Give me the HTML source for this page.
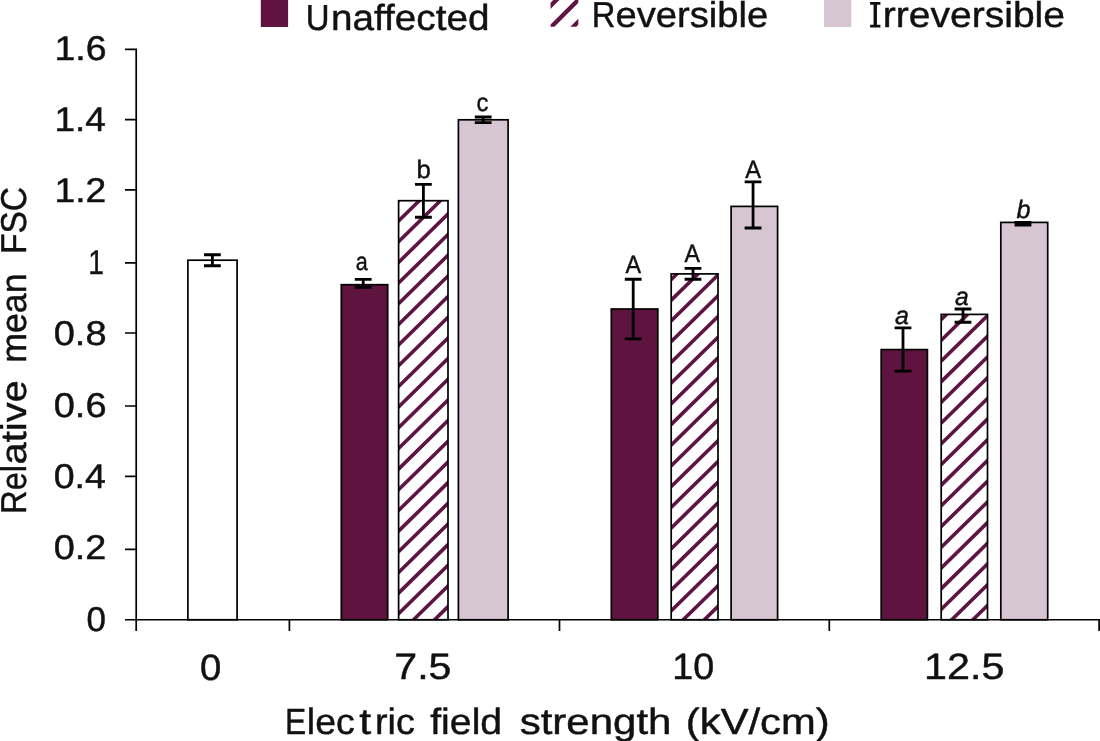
<!DOCTYPE html>
<html><head><meta charset="utf-8"><title>chart</title>
<style>html,body{margin:0;padding:0;background:#fff}svg{display:block;will-change:transform}text{font-family:"Liberation Sans",sans-serif;fill:#111;stroke:#111;stroke-width:0.45px;stroke-linejoin:round;text-rendering:geometricPrecision}</style>
</head><body>
<svg width="1100" height="741" viewBox="0 0 1100 741">
<rect width="1100" height="741" fill="#fff"/>
<defs><clipPath id="c2"><rect x="398.6" y="200.7" width="49.40" height="419.05"/></clipPath><clipPath id="c5"><rect x="671.2" y="273.9" width="46.80" height="345.85"/></clipPath><clipPath id="c8"><rect x="941.2" y="314.4" width="46.30" height="305.35"/></clipPath><clipPath id="lg"><rect x="550.55" y="-1" width="27.75" height="27.85"/></clipPath></defs>
<rect x="187.9" y="260.2" width="49.20" height="359.55" fill="#fff" stroke="#000" stroke-width="1.7"/>
<rect x="341.3" y="284.7" width="46.40" height="335.05" fill="#5f143f" stroke="#000" stroke-width="1.7"/>
<rect x="398.6" y="200.7" width="49.40" height="419.05" fill="#fff"/>
<path clip-path="url(#c2)" d="M393.60 680.62L453.00 622.40M393.60 659.95L453.00 601.73M393.60 639.28L453.00 581.06M393.60 618.61L453.00 560.39M393.60 597.94L453.00 539.72M393.60 577.27L453.00 519.05M393.60 556.60L453.00 498.38M393.60 535.93L453.00 477.71M393.60 515.26L453.00 457.04M393.60 494.59L453.00 436.37M393.60 473.92L453.00 415.70M393.60 453.25L453.00 395.03M393.60 432.58L453.00 374.36M393.60 411.91L453.00 353.69M393.60 391.24L453.00 333.02M393.60 370.57L453.00 312.35M393.60 349.90L453.00 291.68M393.60 329.23L453.00 271.01M393.60 308.56L453.00 250.34M393.60 287.89L453.00 229.67M393.60 267.22L453.00 209.00M393.60 246.55L453.00 188.33M393.60 225.88L453.00 167.66M393.60 205.21L453.00 146.99M393.60 184.54L453.00 126.32M393.60 163.87L453.00 105.65" stroke="#5e1545" stroke-width="3.6" fill="none"/>
<rect x="398.6" y="200.7" width="49.40" height="419.05" fill="none" stroke="#000" stroke-width="1.7"/>
<rect x="458.4" y="119.8" width="49.70" height="499.95" fill="#d6c6d1" stroke="#000" stroke-width="1.7"/>
<rect x="611.3" y="309.0" width="46.50" height="310.75" fill="#5f143f" stroke="#000" stroke-width="1.7"/>
<rect x="671.2" y="273.9" width="46.80" height="345.85" fill="#fff"/>
<path clip-path="url(#c5)" d="M666.20 677.86L723.00 622.20M666.20 657.15L723.00 601.49M666.20 636.44L723.00 580.78M666.20 615.73L723.00 560.07M666.20 595.02L723.00 539.36M666.20 574.31L723.00 518.65M666.20 553.60L723.00 497.94M666.20 532.89L723.00 477.23M666.20 512.18L723.00 456.52M666.20 491.47L723.00 435.81M666.20 470.76L723.00 415.10M666.20 450.05L723.00 394.39M666.20 429.34L723.00 373.68M666.20 408.63L723.00 352.97M666.20 387.92L723.00 332.26M666.20 367.21L723.00 311.55M666.20 346.50L723.00 290.84M666.20 325.79L723.00 270.13M666.20 305.08L723.00 249.42M666.20 284.37L723.00 228.71M666.20 263.66L723.00 208.00M666.20 242.95L723.00 187.29M666.20 222.24L723.00 166.58" stroke="#5e1545" stroke-width="3.6" fill="none"/>
<rect x="671.2" y="273.9" width="46.80" height="345.85" fill="none" stroke="#000" stroke-width="1.7"/>
<rect x="731.1" y="206.4" width="46.50" height="413.35" fill="#d6c6d1" stroke="#000" stroke-width="1.7"/>
<rect x="881.2" y="349.6" width="46.20" height="270.15" fill="#5f143f" stroke="#000" stroke-width="1.7"/>
<rect x="941.2" y="314.4" width="46.30" height="305.35" fill="#fff"/>
<path clip-path="url(#c8)" d="M936.20 676.39L992.50 621.21M936.20 655.69L992.50 600.51M936.20 634.99L992.50 579.81M936.20 614.29L992.50 559.11M936.20 593.59L992.50 538.41M936.20 572.89L992.50 517.71M936.20 552.19L992.50 497.01M936.20 531.49L992.50 476.31M936.20 510.79L992.50 455.61M936.20 490.09L992.50 434.91M936.20 469.39L992.50 414.21M936.20 448.69L992.50 393.51M936.20 427.99L992.50 372.81M936.20 407.29L992.50 352.11M936.20 386.59L992.50 331.41M936.20 365.89L992.50 310.71M936.20 345.19L992.50 290.01M936.20 324.49L992.50 269.31M936.20 303.79L992.50 248.61M936.20 283.09L992.50 227.91M936.20 262.39L992.50 207.21" stroke="#5e1545" stroke-width="3.6" fill="none"/>
<rect x="941.2" y="314.4" width="46.30" height="305.35" fill="none" stroke="#000" stroke-width="1.7"/>
<rect x="1000.8" y="222.4" width="46.90" height="397.35" fill="#d6c6d1" stroke="#000" stroke-width="1.7"/>
<path d="M212.4 254.8V265.7" stroke="#000" stroke-width="2.8" fill="none"/>
<path d="M204.00 254.8H220.80M204.00 265.7H220.80" stroke="#000" stroke-width="2.9" fill="none"/>
<path d="M363.2 279.4V287.4" stroke="#000" stroke-width="2.8" fill="none"/>
<path d="M354.80 279.4H371.60M354.80 287.4H371.60" stroke="#000" stroke-width="2.9" fill="none"/>
<path d="M423.4 184.4V217.2" stroke="#000" stroke-width="2.8" fill="none"/>
<path d="M415.00 184.4H431.80M415.00 217.2H431.80" stroke="#000" stroke-width="2.9" fill="none"/>
<path d="M483.2 117.0V122.6" stroke="#000" stroke-width="2.8" fill="none"/>
<path d="M474.80 117.0H491.60M474.80 122.6H491.60" stroke="#000" stroke-width="2.9" fill="none"/>
<path d="M633.2 279.3V338.9" stroke="#000" stroke-width="2.8" fill="none"/>
<path d="M624.80 279.3H641.60M624.80 338.9H641.60" stroke="#000" stroke-width="2.9" fill="none"/>
<path d="M693.0 268.4V279.3" stroke="#000" stroke-width="2.8" fill="none"/>
<path d="M684.60 268.4H701.40M684.60 279.3H701.40" stroke="#000" stroke-width="2.9" fill="none"/>
<path d="M753.05 181.9V228.0" stroke="#000" stroke-width="2.8" fill="none"/>
<path d="M744.65 181.9H761.45M744.65 228.0H761.45" stroke="#000" stroke-width="2.9" fill="none"/>
<path d="M903.0 327.9V371.1" stroke="#000" stroke-width="2.8" fill="none"/>
<path d="M894.60 327.9H911.40M894.60 371.1H911.40" stroke="#000" stroke-width="2.9" fill="none"/>
<path d="M963.0 309.0V322.2" stroke="#000" stroke-width="2.8" fill="none"/>
<path d="M954.60 309.0H971.40M954.60 322.2H971.40" stroke="#000" stroke-width="2.9" fill="none"/>
<path d="M1023.0 222.55V225.15" stroke="#000" stroke-width="2.8" fill="none"/>
<path d="M1014.60 222.55H1031.40M1014.60 225.15H1031.40" stroke="#000" stroke-width="2.9" fill="none"/>
<path d="M136.2 48.45V630.9M125 619.75H1100M125 49.3H136.2M125 119.6H136.2M125 189.8H136.2M125 262.8H136.2M125 333.0H136.2M125 406.0H136.2M125 476.3H136.2M125 549.4H136.2M289.4 619.75V630.9M559.5 619.75V630.9M829.3 619.75V630.9M1099.1 619.75V630.9" stroke="#000" stroke-width="1.7" fill="none"/>
<rect x="260.8" y="-1" width="27.3" height="28.0" fill="#5f143f"/>
<rect x="824" y="-1" width="27.3" height="28.0" fill="#d6c6d1"/>
<path clip-path="url(#lg)" d="M545.55 10.80L585.55 -29.20M545.55 32.60L585.55 -7.40M545.55 54.50L585.55 14.50" stroke="#5e1545" stroke-width="4.3" fill="none"/>
<text transform="translate(305.86,30.00) scale(0.9102,1)" font-size="36.19">U</text>
<text transform="translate(331.00,30.00) scale(1.0695,1)" font-size="36.19">naffected</text>
<text transform="translate(591.76,27.20) scale(0.9087,1)" font-size="36.05">R</text>
<text transform="translate(615.43,27.20) scale(1.0592,1)" font-size="36.05">eversible</text>
<path d="M870.1 3.35H880.4M870.1 26.1H880.4" stroke="#111" stroke-width="2.7" fill="none"/><path d="M875.25 3V26.5" stroke="#111" stroke-width="3.4" fill="none"/>
<text transform="translate(882.78,27.20) scale(1.0827,1)" font-size="36.05">rreversible</text>
<text transform="translate(54.48,59.80) scale(1.0931,1)" font-size="34.30">1.6</text>
<text transform="translate(54.51,130.70) scale(1.0755,1)" font-size="34.30">1.4</text>
<text transform="translate(54.49,202.30) scale(1.0863,1)" font-size="34.30">1.2</text>
<text transform="translate(88.26,273.60) scale(0.8209,1)" font-size="34.30">1</text>
<text transform="translate(53.73,345.30) scale(1.1070,1)" font-size="34.30">0.8</text>
<text transform="translate(53.73,416.70) scale(1.1070,1)" font-size="34.30">0.6</text>
<text transform="translate(53.75,487.70) scale(1.0940,1)" font-size="34.30">0.4</text>
<text transform="translate(53.74,559.30) scale(1.1025,1)" font-size="34.30">0.2</text>
<text transform="translate(86.43,631.00) scale(1.0180,1)" font-size="34.30">0</text>
<text transform="translate(199.92,679.50) scale(1.0462,1)" font-size="36.63">0</text>
<text transform="translate(394.29,679.20) scale(1.1225,1)" font-size="36.63">7.5</text>
<text transform="translate(672.27,679.20) scale(1.0272,1)" font-size="36.63">10</text>
<text transform="translate(924.04,679.30) scale(1.1280,1)" font-size="36.63">12.5</text>
<text transform="translate(284.94,733.90) scale(0.8701,1)" font-size="36.48">E</text>
<text transform="translate(306.87,733.90) scale(1.0291,1)" font-size="36.48">lec</text>
<text transform="translate(359.22,733.90) scale(1.1754,1)" font-size="36.48">t</text>
<text transform="translate(375.06,733.90) scale(1.0341,1)" font-size="36.48">ric</text>
<text transform="translate(430.22,733.90) scale(1.0753,1)" font-size="36.48">field</text>
<text transform="translate(519.66,733.90) scale(1.1521,1)" font-size="36.48">strength</text>
<text transform="translate(685.86,733.90) scale(1.1444,1)" font-size="36.48">(kV/cm)</text>
<text transform="translate(26.00,514.04) rotate(-90) scale(0.9124,1)" font-size="35.90">R</text>
<text transform="translate(26.00,490.19) rotate(-90) scale(0.9021,1)" font-size="35.90">el</text>
<text transform="translate(26.00,464.43) rotate(-90) scale(1.1106,1)" font-size="35.90">ative</text>
<text transform="translate(26.00,362.82) rotate(-90) scale(0.9967,1)" font-size="35.90">mean</text>
<text transform="translate(26.00,254.11) rotate(-90) scale(0.9366,1)" font-size="35.90">FSC</text>
<text transform="translate(355.65,269.70) scale(0.8579,1)" font-size="25.15">a</text>
<text transform="translate(416.51,177.70) scale(1.0233,1)" font-size="25.15">b</text>
<text transform="translate(476.48,111.30) scale(0.9444,1)" font-size="25.15">c</text>
<text transform="translate(625.42,272.50) scale(0.9269,1)" font-size="25.15">A</text>
<text transform="translate(684.52,261.50) scale(0.9210,1)" font-size="25.15">A</text>
<text transform="translate(745.32,177.50) scale(0.9388,1)" font-size="25.15">A</text>
<text transform="translate(895.03,324.00) scale(0.9919,1)" font-size="25.15" font-style="italic">a</text>
<text transform="translate(955.04,305.10) scale(0.9764,1)" font-size="25.15" font-style="italic">a</text>
<text transform="translate(1016.52,217.60) scale(1.0001,1)" font-size="25.15" font-style="italic">b</text>
</svg></body></html>
